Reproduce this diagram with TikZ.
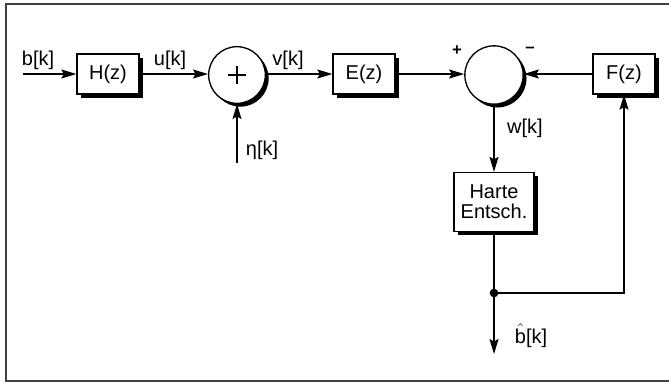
\documentclass[tikz,border=0pt]{standalone}
\usepackage{fontspec}
\setmainfont{Liberation Sans}
\usepackage{tikz}
\usetikzlibrary{shadows}
\usetikzlibrary{arrows.meta}

\begin{document}
\begin{tikzpicture}[x=0.6pt,y=-0.6pt,line width=0.8pt,
  font=\fontsize{12}{14}\selectfont,
  >={Stealth[length=9pt,width=5.4pt,inset=1.5pt]},
  blockbox/.style={draw,fill=white,minimum width=37.2pt,minimum height=24pt,
    drop shadow={shadow xshift=2.2pt,shadow yshift=-2.2pt,fill=black,opacity=1}},
  summer/.style={draw,circle,fill=white,minimum size=34pt,inner sep=0pt,
    drop shadow={shadow xshift=2pt,shadow yshift=-2pt,fill=black,opacity=1}},
  lbl/.style={inner sep=1pt}]
  \useasboundingbox (0,0) rectangle (669,382);
  \draw[line width=1pt,black!75] (680,4) -- (6,4) -- (6,381) -- (680,381);

  % blocks
  \node[summer] (s1) at (237,75) {};
  \draw[line width=0.7pt] (s1.center) ++(-9,0) -- ++(18,0) (s1.center) ++(0,-9) -- ++(0,18);
  \node[blockbox] (h) at (108,74) {H(z)};
  \node[blockbox] (e) at (364,74) {E(z)};
  \node[summer,minimum size=35pt] (s2) at (494,75) {};
  \node[blockbox] (f) at (624,74) {F(z)};
  \node[blockbox,minimum width=48pt,minimum height=35.4pt,align=center] (dec) at (494,202) {Harte\\[-2pt]Entsch.};

  \coordinate (in) at (23,74);
  \coordinate (eta) at (237,163);
  \coordinate (out) at (494,354);
  \fill (494,293) circle (2.6pt) coordinate (dot);

  \path[->]
    (in)  edge (h)
    (h)   edge (s1.west |- h)
    (eta) edge (s1)
    (s1.east |- e) edge (e)
    (e)   edge (s2.west |- e)
    (f)   edge (s2.east |- f)
    (s2)  edge (dec)
    (dot) edge (out);
  \draw (dec) -- (dot);
  \draw[->] (dot) -| (f);

  % labels
  \node[lbl] (lb) at (38,60) {b[k]};
  \node[lbl] (lu) at (170,60) {u[k]};
  \node[lbl] (lv) at (288,60) {v[k]};
  \node[lbl] (leta) at (262,150) {η[k]};
  \node[lbl] (lw) at (525,128) {w[k]};
  \node[lbl] (lbh) at (531,336) {$\hat{\mbox{b}}$[k]};
  \node[lbl,font=\bfseries] (lplus) at (457,51) {+};
  \node[lbl,font=\bfseries] (lminus) at (530,50) {–};
\end{tikzpicture}
\end{document}
